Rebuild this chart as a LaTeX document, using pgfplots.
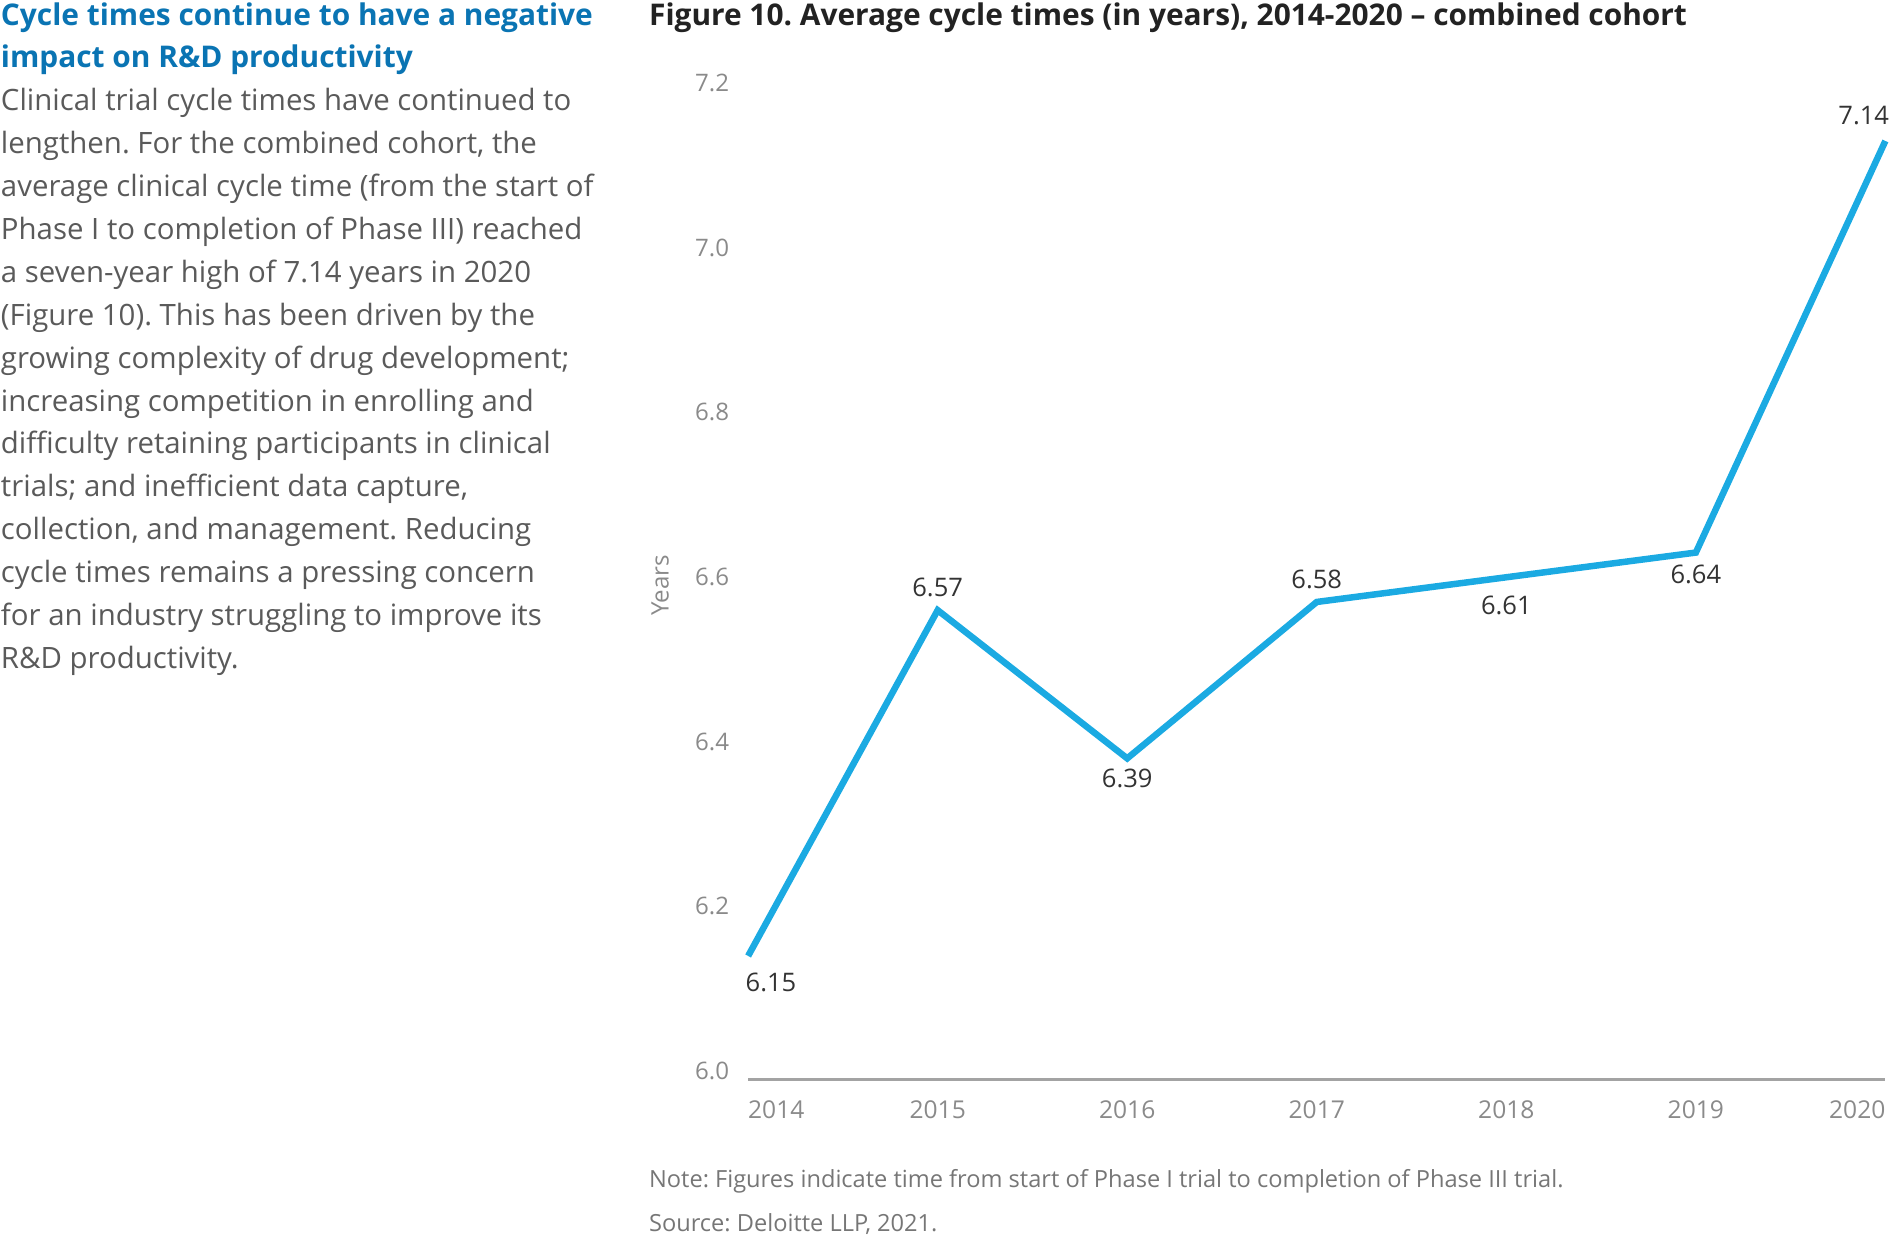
\documentclass[border=0pt]{standalone}
\usepackage{pgfplots}
\pgfplotsset{compat=1.18}
\usepackage{pgfplotstable}
\usepackage{fontspec}
\setmainfont{Open Sans}
\frenchspacing

\definecolor{titleblue}{HTML}{0A74B3}
\definecolor{lineblue}{HTML}{1BAAE2}
\definecolor{bodygray}{HTML}{5A5A5A}
\definecolor{darktext}{HTML}{222222}
\definecolor{tickgray}{HTML}{8A8A8A}
\definecolor{labeldark}{HTML}{333333}
\definecolor{notegray}{HTML}{767676}
\definecolor{axisgray}{HTML}{A3A3A3}

% average cycle time, combined cohort; dx/dy place the value labels (bp)
\pgfplotstableread{
year  val   dx     dy
2014  6.15  4.75   -5.5
2015  6.57  0      4.75
2016  6.39  0      -4.25
2017  6.58  0      4.75
2018  6.61  0      -5.75
2019  6.64  0      -4.5
2020  7.14  -4.5   5.25
}\cycletimes

\newcommand\bodyline[2]{\node[anchor=base west, inner sep=0pt, text=bodygray,
  font=\fontsize{6.1bp}{8.9bp}\selectfont] at (0bp,{-23bp-#1*8.9bp}) {#2};}

\begin{document}
\begin{tikzpicture}
\path[use as bounding box] (0,0) rectangle (392bp,-256.1bp);

% left column
\node[anchor=base west, inner sep=0pt, text=titleblue,
  font=\fontsize{6.2bp}{8.75bp}\selectfont\bfseries] at (0bp,-5.2bp)
  {Cycle times continue to have a negative};
\node[anchor=base west, inner sep=0pt, text=titleblue,
  font=\fontsize{6.2bp}{8.75bp}\selectfont\bfseries] at (0bp,-14bp)
  {impact on R\&D productivity};
\bodyline{0}{Clinical trial cycle times have continued to}
\bodyline{1}{lengthen. For the combined cohort, the}
\bodyline{2}{average clinical cycle time (from the start of}
\bodyline{3}{Phase I to completion of Phase III) reached}
\bodyline{4}{a seven-year high of 7.14 years in 2020}
\bodyline{5}{(Figure 10). This has been driven by the}
\bodyline{6}{growing complexity of drug development;}
\bodyline{7}{increasing competition in enrolling and}
\bodyline{8}{difficulty retaining participants in clinical}
\bodyline{9}{trials; and inefficient data capture,}
\bodyline{10}{collection, and management. Reducing}
\bodyline{11}{cycle times remains a pressing concern}
\bodyline{12}{for an industry struggling to improve its}
\bodyline{13}{R\&D productivity.}

% figure title
\node[anchor=base west, inner sep=0pt, text=darktext,
  font=\fontsize{6.2bp}{8.75bp}\selectfont\bfseries] at (134.5bp,-5.2bp)
  {Figure 10. Average cycle times (in years), 2014-2020 – combined cohort};

\begin{axis}[
  at={(155.25bp,-224bp)}, anchor=south west,
  scale only axis, width=236bp, height=205bp,
  xmin=2014, xmax=2020, ymin=6.0, ymax=7.2,
  clip=false,
  axis x line*=bottom, axis y line*=left,
  y axis line style={draw=none},
  x axis line style={draw=axisgray, line width=0.6bp, -},
  major tick length=0pt,
  xtick={2014,2015,2016,2017,2018,2019,2020},
  xticklabels={\makebox[0pt][l]{2014},2015,2016,2017,2018,2019,\makebox[0pt][r]{2020}},
  ytick={6.0,6.2,6.4,6.6,6.8,7.0,7.2},
  yticklabels={6.0,6.2,6.4,6.6,6.8,7.0,7.2},
  xticklabel style={font=\fontsize{5.1bp}{6bp}\selectfont, text=tickgray,
    anchor=north, inner sep=0pt, yshift=-4.25bp},
  yticklabel style={font=\fontsize{5bp}{6bp}\selectfont, text=tickgray,
    anchor=east, inner sep=0pt, xshift=-3.75bp, yshift=1.75bp},
  ylabel={Years},
  every axis y label/.style={at={(rel axis cs:0,0.5)}, rotate=90, anchor=center,
    yshift=18.25bp, font=\fontsize{5bp}{6bp}\selectfont, text=tickgray},
]
\addplot[color=lineblue, line width=1.35bp,
  nodes near coords, point meta=explicit symbolic,
  visualization depends on={\thisrow{dx} \as \dx},
  visualization depends on={\thisrow{dy} \as \dy},
  every node near coord/.append style={anchor=center, xshift=\dx bp, yshift=\dy bp,
    inner sep=0pt, font=\fontsize{5.3bp}{6bp}\selectfont, text=labeldark}]
  table[x=year, y=val, meta=val] {\cycletimes};
\end{axis}

% note and source
\node[anchor=base west, inner sep=0pt, text=notegray,
  font=\fontsize{4.9bp}{6bp}\selectfont] at (134.5bp,-246.5bp)
  {Note: Figures indicate time from start of Phase I trial to completion of Phase III trial.};
\node[anchor=base west, inner sep=0pt, text=notegray,
  font=\fontsize{4.9bp}{6bp}\selectfont] at (134.5bp,-255.5bp)
  {Source: Deloitte LLP, 2021.};
\end{tikzpicture}
\end{document}
